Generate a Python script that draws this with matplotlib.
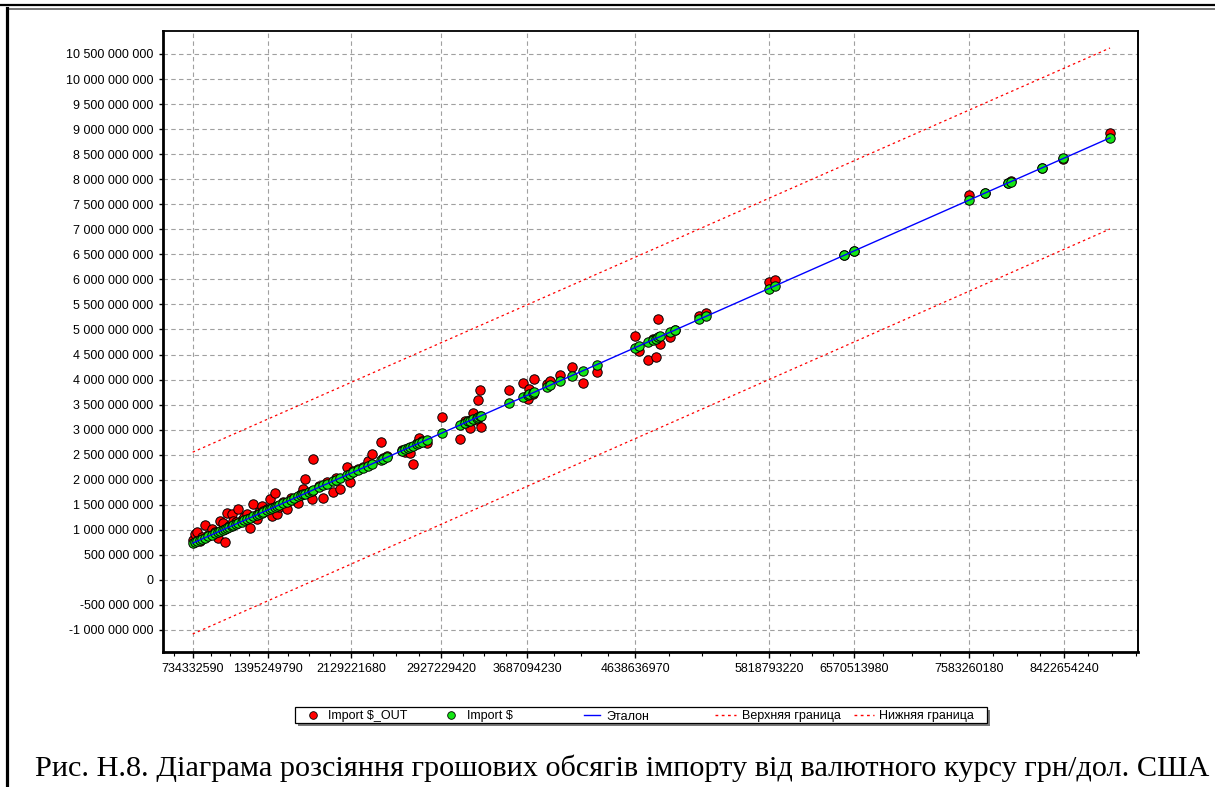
import numpy as np
import matplotlib
matplotlib.use("Agg")
import matplotlib.pyplot as plt
from matplotlib.lines import Line2D
from matplotlib.patches import Rectangle
from matplotlib.ticker import FixedLocator, FuncFormatter

plt.rcParams['font.family'] = ['Liberation Sans', 'DejaVu Sans']

SCALE = 1e9  # values below are in billions

# Actual import volume (x, and y of green "Import $")
import_actual = [
    0.734333, 0.755, 0.770, 0.795, 0.820, 0.843, 0.870, 0.902, 0.930, 0.960,
    0.975, 1.004, 1.019, 1.034, 1.055, 1.078, 1.093, 1.115, 1.137, 1.165,
    1.190, 1.211, 1.240, 1.269, 1.299, 1.320, 1.343, 1.357, 1.390, 1.416,
    1.430, 1.460, 1.475, 1.500, 1.530, 1.563, 1.600, 1.630, 1.666, 1.690,
    1.710, 1.725, 1.763, 1.784, 1.798, 1.850, 1.886, 1.920, 1.975, 2.000,
    2.033, 2.093, 2.122, 2.150, 2.190, 2.239, 2.283, 2.313, 2.399, 2.415,
    2.445, 2.578, 2.607, 2.636, 2.651, 2.674, 2.710, 2.731, 2.754, 2.803,
    2.930, 3.092, 3.136, 3.166, 3.180, 3.204, 3.239, 3.254, 3.269, 3.275,
    3.527, 3.645, 3.694, 3.704, 3.738, 3.745, 3.857, 3.886, 3.974, 4.077,
    4.180, 4.298, 4.636, 4.674, 4.753, 4.797, 4.818, 4.841, 4.860, 4.944,
    4.988, 5.203, 5.262, 5.815, 5.871, 6.482, 6.568, 7.585, 7.723, 7.929,
    7.950, 8.223, 8.414, 8.826,
]

# Model output (red "Import $_OUT")
import_out = [
    0.800, 0.913, 0.959, 0.780, 0.860, 1.092, 0.900, 1.012, 0.950, 0.827,
    1.178, 1.146, 0.747, 1.331, 1.080, 1.311, 1.178, 1.160, 1.411, 1.200,
    1.250, 1.311, 1.046, 1.511, 1.212, 1.360, 1.477, 1.377, 1.420, 1.610,
    1.278, 1.744, 1.311, 1.460, 1.560, 1.411, 1.640, 1.600, 1.545, 1.720,
    1.810, 2.023, 1.744, 1.610, 2.407, 1.880, 1.644, 1.950, 1.756, 2.030,
    1.810, 2.254, 1.955, 2.180, 2.210, 2.260, 2.374, 2.507, 2.752, 2.440,
    2.470, 2.600, 2.560, 2.620, 2.541, 2.308, 2.740, 2.826, 2.780, 2.740,
    3.251, 2.806, 3.180, 3.171, 3.039, 3.338, 3.200, 3.590, 3.783, 3.059,
    3.789, 3.930, 3.603, 3.803, 3.720, 4.002, 3.902, 3.968, 4.082, 4.247,
    3.922, 4.148, 4.865, 4.566, 4.387, 4.800, 4.447, 5.212, 4.700, 4.853,
    4.980, 5.277, 5.331, 5.942, 5.982, 6.480, 6.570, 7.689, 7.720, 7.930,
    7.960, 8.220, 8.410, 8.918,
]

# Reference line and bounds (endpoints)
line_x = [0.734333, 8.826]
etalon_y = [0.734333, 8.826]
upper_y = [2.550, 10.620]
lower_y = [-1.080, 7.006]

x_tick_values = [734332590, 1395249790, 2129221680, 2927229420, 3687094230,
                 4638636970, 5818793220, 6570513980, 7583260180, 8422654240]
y_tick_values = list(range(-1_000_000_000, 10_500_000_001, 500_000_000))

labels = ["Import $_OUT", "Import $", "Эталон", "Верхняя граница", "Нижняя граница"]
caption = "Рис. Н.8. Діаграма розсіяння грошових обсягів імпорту від валютного курсу грн/дол. США"

RED = "#ff0000"
GREEN = "#14e614"
BLUE = "#0000ff"
DASH = (0, (2, 2.5))

W, H = 1215, 787
fig = plt.figure(figsize=(W / 100, H / 100), dpi=100)
fig.patch.set_facecolor("white")


def fx(x):
    return x / W


def fy(y):
    return 1 - y / H


def px_line(x0, y0, x1, y1, **kw):
    fig.add_artist(Line2D([fx(x0), fx(x1)], [fy(y0), fy(y1)],
                          transform=fig.transFigure, **kw))


# page frame lines
px_line(0, 5, W, 5, color="black", lw=1.6)
px_line(7, 8.5, W, 8.5, color="#505050", lw=1.1)
px_line(6.5, 8, 6.5, H, color="black", lw=2.3)

L, T, R, B = 163.3, 31, 1138, 652.3
ax = fig.add_axes([fx(L), fy(B), (R - L) / W, (B - T) / H])

xa = np.array(import_actual) * SCALE
ya = np.array(import_out) * SCALE
lx = np.array(line_x) * SCALE

ax.grid(True, which="major", color="#a0a0a0", lw=0.8, linestyle=(0, (4, 3)))
ax.set_axisbelow(True)

ax.scatter(xa, ya, s=46, c=RED, edgecolors="black", linewidths=0.7, zorder=3)
ax.scatter(xa, xa, s=46, c=GREEN, edgecolors="black", linewidths=0.7, zorder=4)
ax.plot(lx, np.array(etalon_y) * SCALE, color=BLUE, lw=1.0, zorder=5)
ax.plot(lx, np.array(upper_y) * SCALE, color=RED, lw=0.9, linestyle=DASH, zorder=5)
ax.plot(lx, np.array(lower_y) * SCALE, color=RED, lw=0.9, linestyle=DASH, zorder=5)

ax.set_xlim(0.4750e9, 9.0729e9)
ax.set_ylim(-1.4455e9, 10.959e9)

ax.xaxis.set_major_locator(FixedLocator(x_tick_values))
ax.xaxis.set_major_formatter(FuncFormatter(lambda v, p: f"{int(round(v))}"))
minor = []
for a, b in zip(x_tick_values[:-1], x_tick_values[1:]):
    minor += list(np.linspace(a, b, 5)[1:-1])
d0 = (x_tick_values[1] - x_tick_values[0]) / 4
minor.append(x_tick_values[0] - d0)
d1 = (x_tick_values[-1] - x_tick_values[-2]) / 4
minor += [x_tick_values[-1] + d1, x_tick_values[-1] + 2 * d1, x_tick_values[-1] + 3 * d1]
ax.xaxis.set_minor_locator(FixedLocator(minor))

ax.yaxis.set_major_locator(FixedLocator(y_tick_values))
ax.yaxis.set_major_formatter(FuncFormatter(lambda v, p: f"{int(round(v)):,}".replace(",", " ")))

ax.tick_params(axis="both", which="major", labelsize=9, colors="black", width=1.0)
ax.tick_params(axis="x", which="major", length=4.5, pad=3.5)
ax.tick_params(axis="x", which="minor", length=3, width=0.8)
ax.tick_params(axis="y", which="major", length=3, pad=4)

for side, lw in (("left", 2.0), ("bottom", 2.0), ("top", 1.3), ("right", 1.4)):
    ax.spines[side].set_linewidth(lw)
    ax.spines[side].set_color("black")

# legend box (TeeChart style: equal-width columns, drop shadow)
lx0, lx1, ly0, ly1 = 295, 987, 707, 723
fig.add_artist(Rectangle((fx(lx0 + 3), fy(ly1 + 3)), (lx1 - lx0) / W, (ly1 - ly0) / H,
                         transform=fig.transFigure, facecolor="#7a7a7a", edgecolor="none"))
fig.add_artist(Rectangle((fx(lx0), fy(ly1)), (lx1 - lx0) / W, (ly1 - ly0) / H,
                         transform=fig.transFigure, facecolor="white", edgecolor="black", lw=0.9))
lyc = (ly0 + ly1) / 2
entries = [
    ("marker", RED, 313, 328),
    ("marker", GREEN, 451, 467),
    ("line", BLUE, (584, 600), 606),
    ("dash", RED, (715, 736), 742),
    ("dash", RED, (854, 874), 879),
]
for (kind, col, pos, tx), lab in zip(entries, labels):
    if kind == "marker":
        fig.add_artist(Line2D([fx(pos)], [fy(lyc)], transform=fig.transFigure, marker="o",
                              linestyle="none", markersize=5.5, markerfacecolor=col,
                              markeredgecolor="black", markeredgewidth=0.6))
    else:
        ls = "-" if kind == "line" else DASH
        fig.add_artist(Line2D([fx(pos[0]), fx(pos[1])], [fy(lyc), fy(lyc)],
                              transform=fig.transFigure, color=col, lw=1.0, linestyle=ls))
    fig.text(fx(tx), fy(lyc + 4.5), lab, fontsize=9, ha="left", va="baseline", color="black")

fig.text(fx(35), fy(776), caption, fontsize=21.8, family=["Liberation Serif", "DejaVu Serif"],
         ha="left", va="baseline", color="black")

fig.savefig("out.png", dpi=100)
